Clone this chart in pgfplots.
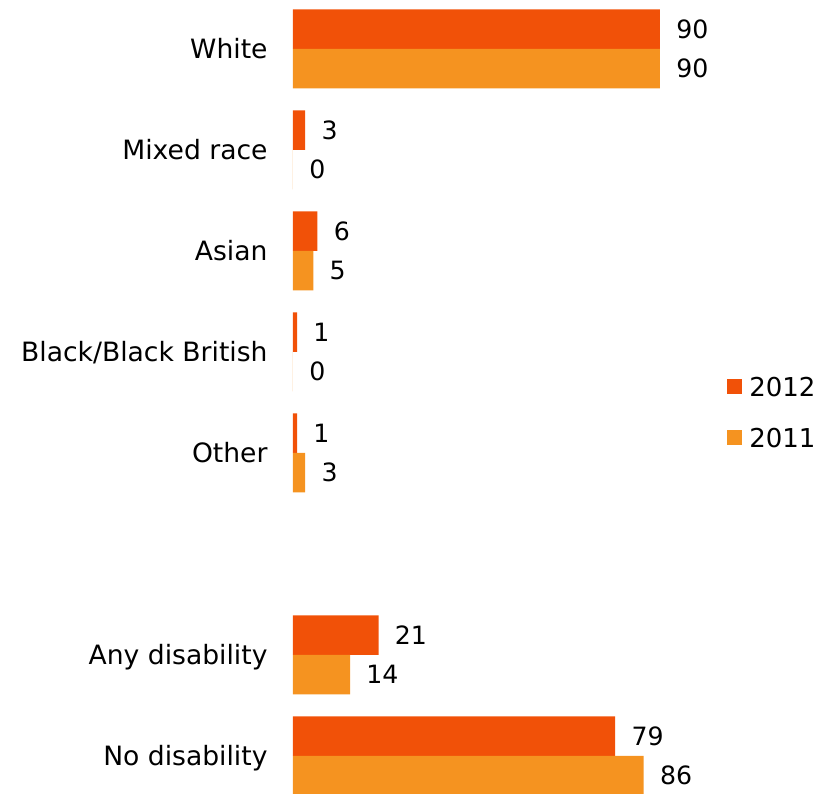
\documentclass[border=0pt]{standalone}
\usepackage{fontspec}
\setmainfont{DejaVu Sans}
\usepackage{pgfplots}
\pgfplotsset{compat=1.18}
\definecolor{dk}{HTML}{F15108}
\definecolor{lt}{HTML}{F59320}
\begin{document}
\fontsize{12.5}{15}\selectfont
\begin{tikzpicture}
\begin{axis}[
  xbar,
  scale only axis,
  width=268pt, height=397pt,
  xmin=0, xmax=131.4,
  ymin=-0.485, ymax=7.376,
  y dir=reverse,
  axis line style={draw=none},
  xtick=\empty,
  ytick={0,1,2,3,4,6,7},
  yticklabels={White,Mixed race,Asian,Black/Black British,Other,Any disability,No disability},
  major tick length=0pt,
  yticklabel style={anchor=east, inner sep=0pt, xshift=-12.5pt, text height=9.5pt, text depth=0pt, font=\fontsize{13.3}{15}\selectfont},
  bar width=19.75pt,
  /pgf/number format/assume math mode=true,
  nodes near coords,
  every node near coord/.append style={anchor=west, inner sep=0pt, xshift=8pt, text height=9.1pt, text depth=0pt, font=\fontsize{12.6}{15}\selectfont, black},
  legend style={at={(0.81,0.525)}, anchor=north west, draw=none, fill=none, inner sep=0pt, row sep=16.2pt, column sep=3.5pt,
    nodes={inner sep=0pt, text height=9.3pt, text depth=0pt, font=\fontsize{13}{15}\selectfont}},
  legend cell align=left,
  legend image code/.code={\fill[#1] (0pt,-3.75pt) rectangle (7.5pt,3.75pt);},
]
\addplot[fill=dk, draw=none, bar shift=9.875pt] coordinates {(90,0) (3,1) (6,2) (1,3) (1,4) (21,6) (79,7)};
\addplot[fill=lt, draw=none, bar shift=-9.875pt] coordinates {(90,0) (0,1) (5,2) (0,3) (3,4) (14,6) (86,7)};
\legend{2012,2011}
\end{axis}
\path ([xshift=-146.5pt]current axis.south west) rectangle (current axis.north east);
\end{tikzpicture}
\end{document}
